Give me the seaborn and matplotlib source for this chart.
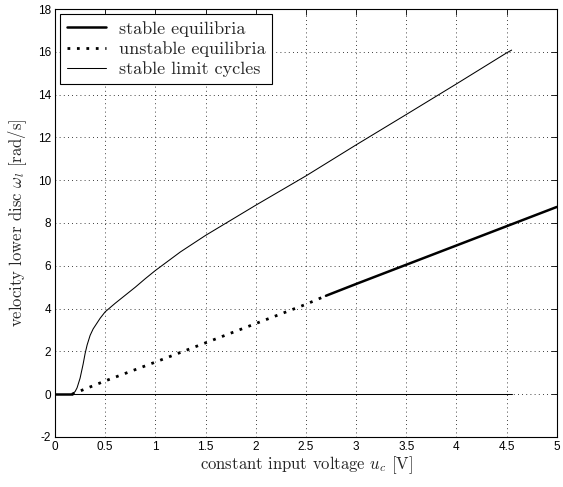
import numpy as np
import pandas as pd
import matplotlib
matplotlib.use('Agg')
import matplotlib.pyplot as plt
import seaborn as sns

# dados lidos do gráfico
# equilíbrios estáveis (dois trechos)
u_est1 = [0.0, 0.17]
w_est1 = [0.0, 0.0]
u_est2 = [2.7, 3.0, 3.5, 4.0, 4.5, 5.0]
w_est2 = [4.6, 5.15, 6.05, 6.95, 7.85, 8.75]
# equilíbrios instáveis
u_inst = [0.17, 0.5, 1.0, 1.5, 2.0, 2.5, 2.7]
w_inst = [0.0, 0.62, 1.5, 2.4, 3.3, 4.2, 4.6]
# ciclos limite estáveis (ramo superior e ramo em zero)
u_ciclo = [0.166, 0.2, 0.22, 0.25, 0.28, 0.3, 0.32, 0.35, 0.38, 0.415, 0.45, 0.5,
           0.6, 0.68, 0.8, 0.9, 1.0, 1.25, 1.5, 2.0, 2.5, 3.0, 3.5, 4.0, 4.5, 4.55]
w_ciclo = [0.0, 0.12, 0.3, 0.75, 1.4, 1.9, 2.3, 2.75, 3.05, 3.3, 3.55, 3.85,
           4.25, 4.55, 5.0, 5.4, 5.78, 6.65, 7.42, 8.83, 10.2, 11.65, 13.07, 14.5,
           15.95, 16.08]
u_ciclo0 = [0.166, 4.55]
w_ciclo0 = [0.0, 0.0]

xticks = [0, 0.5, 1, 1.5, 2, 2.5, 3, 3.5, 4, 4.5, 5]
xticklabels = ['0', '0.5', '1', '1.5', '2', '2.5', '3', '3.5', '4', '4.5', '5']
yticks = list(range(-2, 19, 2))

sns.set_style('white')
plt.rcParams['font.family'] = ['Liberation Sans', 'DejaVu Sans']
plt.rcParams['mathtext.fontset'] = 'cm'
plt.rcParams['axes.unicode_minus'] = False

fig = plt.figure(figsize=(5.63, 4.87), dpi=100)
ax = fig.add_axes([0.0977, 0.1027, 0.8913, 0.8788])

df_e1 = pd.DataFrame({'u': u_est1, 'w': w_est1})
df_e2 = pd.DataFrame({'u': u_est2, 'w': w_est2})
df_i = pd.DataFrame({'u': u_inst, 'w': w_inst})
df_c = pd.DataFrame({'u': u_ciclo, 'w': w_ciclo})
df_c0 = pd.DataFrame({'u': u_ciclo0, 'w': w_ciclo0})

sns.lineplot(data=df_e1, x='u', y='w', color='black', lw=1.8, sort=False, ax=ax,
             label='stable equilibria')
sns.lineplot(data=df_e2, x='u', y='w', color='black', lw=1.8, sort=False, ax=ax)
sns.lineplot(data=df_i, x='u', y='w', color='black', lw=2.0, ls=(0, (1, 2.4)),
             sort=False, ax=ax, label='unstable equilibria')
sns.lineplot(data=df_c, x='u', y='w', color='black', lw=0.75, sort=False, ax=ax,
             label='stable limit cycles')
sns.lineplot(data=df_c0, x='u', y='w', color='black', lw=0.75, sort=False, ax=ax)

ax.set_xlim(0, 5)
ax.set_ylim(-2, 18)
ax.set_xticks(xticks)
ax.set_xticklabels(xticklabels)
ax.set_yticks(yticks)
ax.tick_params(direction='in', top=True, right=True, length=4, width=0.6,
               labelsize=8.5, colors='black', pad=3)
ax.grid(True, color='black', ls=(0, (1, 4)), lw=0.6)
for s in ax.spines.values():
    s.set_color('black')
    s.set_linewidth(0.8)

ax.set_xlabel('constant input voltage $u_c$ [V]', family='cmr10', fontsize=12, labelpad=1)
ax.set_ylabel(r'velocity lower disc $\omega_l$ [rad/s]', family='cmr10', fontsize=12, labelpad=6)

leg = ax.legend(loc='upper left', prop={'family': 'cmr10', 'size': 13}, frameon=True,
                fancybox=False, edgecolor='black', framealpha=1, borderaxespad=0.3,
                handlelength=2.2, borderpad=0.35, labelspacing=0.25, handletextpad=0.7)
leg.get_frame().set_linewidth(0.8)

plt.savefig('out.png', dpi=100)
